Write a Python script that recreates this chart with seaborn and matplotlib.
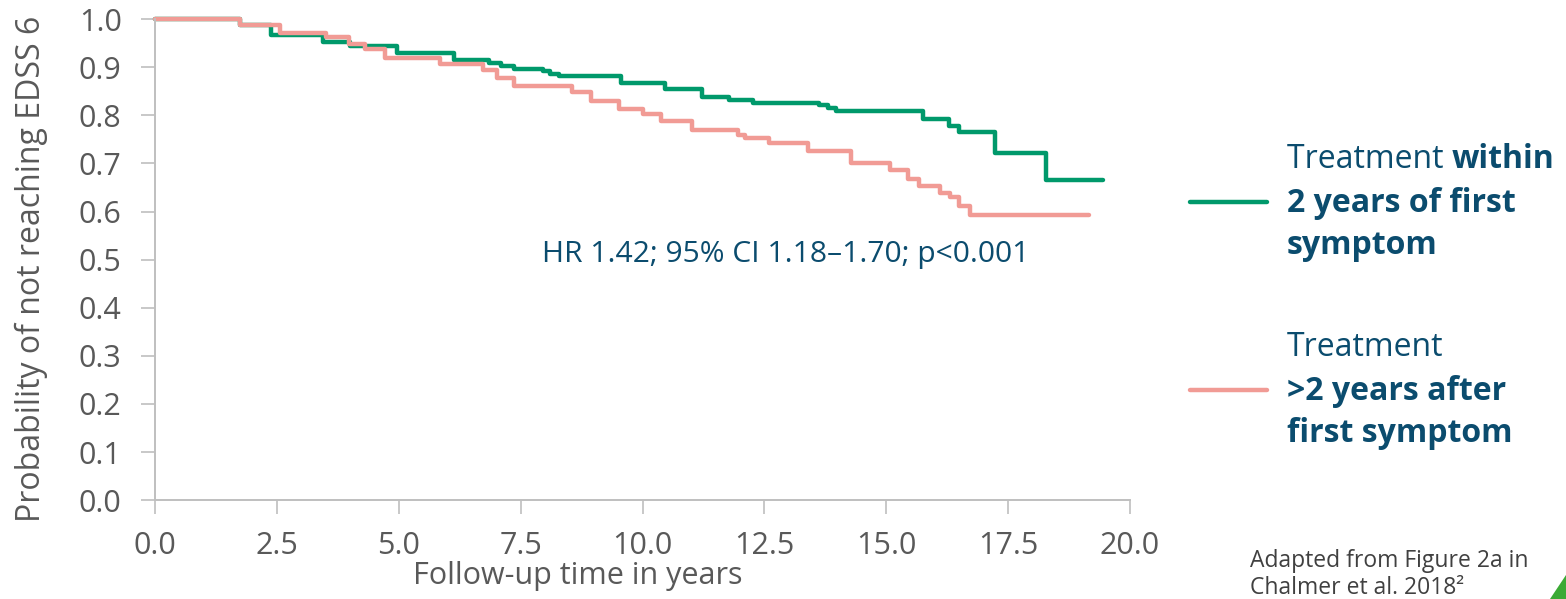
import matplotlib
matplotlib.use("Agg")
import matplotlib.pyplot as plt
import seaborn as sns
import pandas as pd
from matplotlib.lines import Line2D
from matplotlib.patches import Polygon

# ---- data ----
green_time = [0, 1.75, 2.38, 3.45, 4.0, 4.96, 6.13, 6.85, 7.1, 7.36, 7.95, 8.1, 8.28,
              9.55, 10.47, 11.23, 11.78, 12.26, 13.63, 13.8, 13.97, 15.75, 16.28,
              16.49, 17.24, 18.27, 19.45]
green_surv = [1.0, 0.988, 0.968, 0.953, 0.944, 0.930, 0.915, 0.909, 0.903, 0.897, 0.892,
              0.887, 0.882, 0.868, 0.854, 0.838, 0.832, 0.825, 0.821, 0.815, 0.809,
              0.793, 0.778, 0.766, 0.722, 0.665, 0.665]
pink_time = [0, 1.75, 2.56, 3.51, 3.97, 4.31, 4.72, 5.85, 6.73, 7.02, 7.36, 8.56, 8.95,
             9.52, 10.0, 10.37, 11.02, 11.95, 12.1, 12.6, 13.39, 14.28, 15.07, 15.44,
             15.68, 16.1, 16.3, 16.5, 16.71, 19.16]
pink_surv = [1.0, 0.988, 0.972, 0.962, 0.949, 0.938, 0.920, 0.906, 0.894, 0.878, 0.861,
             0.849, 0.830, 0.814, 0.802, 0.788, 0.769, 0.760, 0.753, 0.742, 0.726,
             0.700, 0.686, 0.667, 0.653, 0.639, 0.631, 0.611, 0.593, 0.593]
x_ticks = [0.0, 2.5, 5.0, 7.5, 10.0, 12.5, 15.0, 17.5, 20.0]
y_ticks = [0.0, 0.1, 0.2, 0.3, 0.4, 0.5, 0.6, 0.7, 0.8, 0.9, 1.0]
annotation = "HR 1.42; 95% CI 1.18–1.70; p<0.001"
legend_green = ("Treatment ", "within", "2 years of first", "symptom")
legend_pink = ("Treatment", ">2 years after", "first symptom")
footnote = "Adapted from Figure 2a in\nChalmer et al. 2018²"

GREEN = "#00996B"
PINK = "#F19B95"
NAVY = "#0B4C6E"
GRAY = "#595959"

sns.set_theme(style="white")
plt.rcParams["font.family"] = ["Open Sans", "DejaVu Sans"]

fig = plt.figure(figsize=(15.66, 5.99), dpi=100)
ax = fig.add_axes([0.0990, 0.165, 0.6226, 0.803])

dg = pd.DataFrame({"t": green_time, "s": green_surv})
dp = pd.DataFrame({"t": pink_time, "s": pink_surv})
sns.lineplot(data=dg, x="t", y="s", ax=ax, color=GREEN, lw=3.2, estimator=None,
             sort=False, drawstyle="steps-post", clip_on=False)
sns.lineplot(data=dp, x="t", y="s", ax=ax, color=PINK, lw=3.2, estimator=None,
             sort=False, drawstyle="steps-post", clip_on=False)

ax.set_xlim(0, 20)
ax.set_ylim(0, 1.0)
ax.set_xticks(x_ticks)
ax.set_xticklabels([f"{v:.1f}" for v in x_ticks])
ax.set_yticks(y_ticks)
ax.set_yticklabels([f"{v:.1f}" for v in y_ticks])
ax.tick_params(axis="both", labelsize=22, colors="#BFBFBF", labelcolor=GRAY,
               length=10, width=1.2, direction="out", left=True, bottom=True)
ax.tick_params(axis="y", pad=14)
ax.tick_params(axis="x", pad=12)
for side in ["top", "right"]:
    ax.spines[side].set_visible(False)
for side in ["left", "bottom"]:
    ax.spines[side].set_color("#BFBFBF")
    ax.spines[side].set_linewidth(1.4)
ax.set_facecolor("none")
ax.set_xlabel("Follow-up time in years", fontsize=22, color=GRAY)
ax.xaxis.label.set_va("center")
ax.xaxis.set_label_coords(0.434, -0.158)
ax.set_ylabel("Probability of not reaching EDSS 6", fontsize=23, color=GRAY)
ax.yaxis.set_label_coords(-0.110, 0.48)

ax.text(12.94, 0.511, annotation, fontsize=21.6, color=NAVY, ha="center", va="center")

# ---- legend on the right ----
W, H = 1566, 599
def fx(px):
    return px / W
def fy(py):
    return 1 - py / H

fig.add_artist(Line2D([fx(1190), fx(1267)], [fy(202), fy(202)], color=GREEN, lw=3.2))
fig.add_artist(Line2D([fx(1190), fx(1267)], [fy(390), fy(390)], color=PINK, lw=3.2))

LS = 23
t1 = fig.text(fx(1287), fy(160), legend_green[0], fontsize=LS, color=NAVY, va="center")
fig.canvas.draw()
r = fig.canvas.get_renderer()
bb = t1.get_window_extent(renderer=r)
fig.text(bb.x1 / W, fy(160), legend_green[1], fontsize=LS, color=NAVY,
         va="center", fontweight="bold")
fig.text(fx(1287), fy(203), legend_green[2], fontsize=LS, color=NAVY, va="center",
         fontweight="bold")
fig.text(fx(1287), fy(246), legend_green[3], fontsize=LS, color=NAVY, va="center",
         fontweight="bold")
fig.text(fx(1287), fy(348), legend_pink[0], fontsize=LS, color=NAVY, va="center")
fig.text(fx(1287), fy(391), legend_pink[1], fontsize=LS, color=NAVY, va="center",
         fontweight="bold")
fig.text(fx(1287), fy(434), legend_pink[2], fontsize=LS, color=NAVY, va="center",
         fontweight="bold")

fig.text(fx(1250), fy(549), footnote, fontsize=16.5, color="#404040", va="top",
         linespacing=1.15)

fig.add_artist(Polygon([[fx(1550), 0], [1, fy(575)], [1, 0]], closed=True,
                       transform=fig.transFigure, color="#3BAA35", lw=0))

fig.savefig("out.png", dpi=100)
